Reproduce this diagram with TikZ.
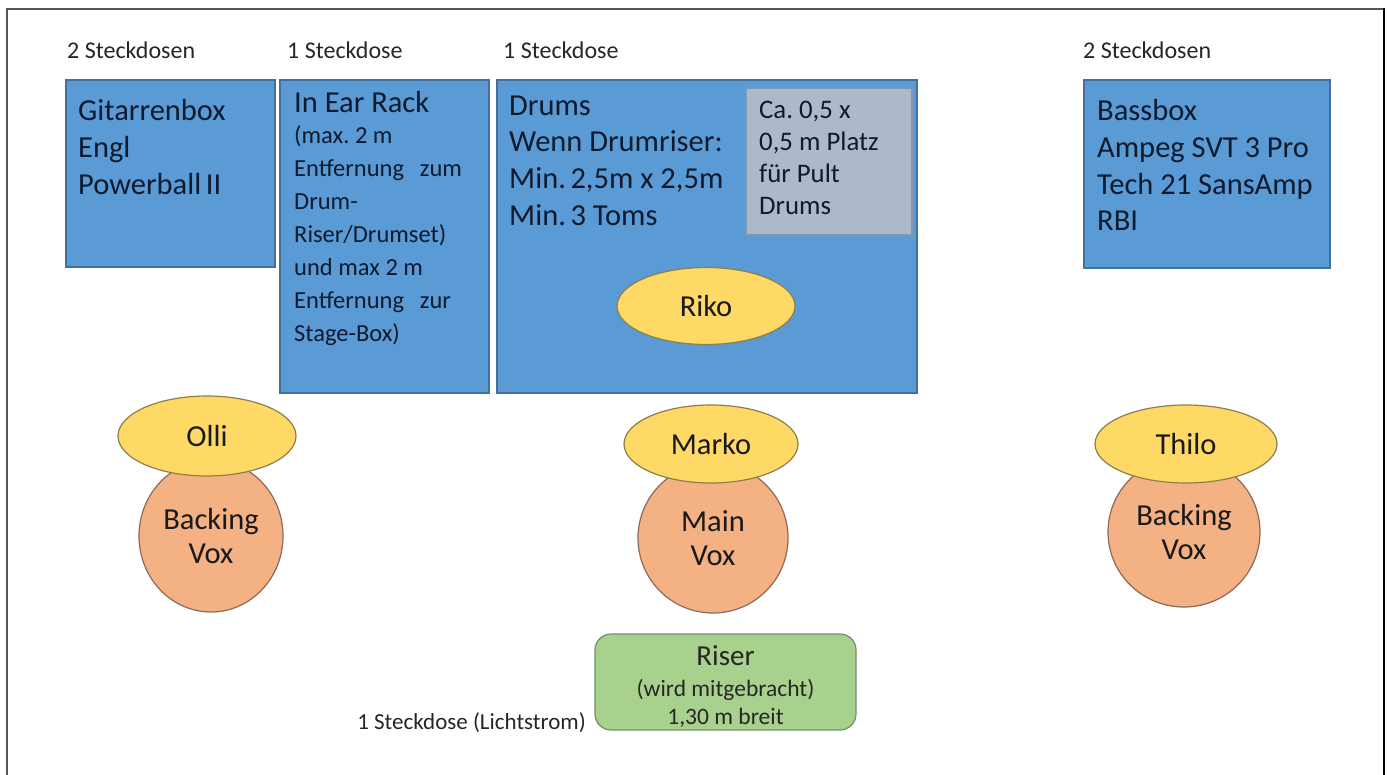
\documentclass[tikz,border=0pt]{standalone}
\usepackage{fontspec}
\setmainfont{Carlito}
\usetikzlibrary{shapes.geometric}
\definecolor{boxblue}{HTML}{5B9BD5}
\definecolor{boxedge}{HTML}{41719C}
\definecolor{greyfill}{HTML}{ADB9CA}
\definecolor{greyedge}{HTML}{8497B0}
\definecolor{goldfill}{HTML}{FFD966}
\definecolor{goldedge}{HTML}{8C7F4A}
\definecolor{salmonfill}{HTML}{F4B183}
\definecolor{salmonedge}{HTML}{8C6A58}
\definecolor{riserfill}{HTML}{A9D18E}
\definecolor{riseredge}{HTML}{6F8F70}
\definecolor{txtblue}{HTML}{0E1A2E}
\definecolor{framegrey}{HTML}{555555}
\frenchspacing
\begin{document}
\begin{tikzpicture}[x=1pt,y=-1pt,
  bluebox/.style={draw=boxedge, fill=boxblue, line width=1.2pt, inner sep=0pt},
  greybox/.style={draw=greyedge, fill=greyfill, line width=1.2pt, inner sep=0pt},
  boxtext/.style={anchor=north west, inner sep=0pt, align=left, text=txtblue,
    font=\fontsize{30.5}{36.7}\selectfont},
  smalltext/.style={anchor=north west, inner sep=0pt, align=left, text=txtblue,
    font=\fontsize{24.5}{33}\selectfont},
  greytext/.style={anchor=north west, inner sep=0pt, align=left, text=txtblue,
    font=\fontsize{26.8}{32.3}\selectfont},
  label/.style={anchor=base west, inner sep=0pt, text=black!85,
    font=\fontsize{24}{28}\selectfont},
  person/.style={ellipse, draw=goldedge, fill=goldfill, line width=1.2pt, inner sep=0pt,
    text=black!90, font=\fontsize{30.5}{34}\selectfont},
  voice/.style={ellipse, draw=salmonedge, fill=salmonfill, line width=1.2pt, inner sep=0pt,
    align=center, text=black!90, font=\fontsize{30.5}{34}\selectfont},
  riserbox/.style={draw=riseredge, fill=riserfill, line width=1.2pt, rounded corners=16pt,
    inner sep=0pt},
  risertext/.style={inner sep=0pt, align=center, text=black!85,
    font=\fontsize{23.5}{28.5}\selectfont}
]
\useasboundingbox (0,0) rectangle (1389,775);
\fill[white] (0,0) rectangle (1389,775);
% frame
\draw[framegrey, line width=1.6pt] (7,790) -- (7,9) -- (1384,9);
\draw[black, line width=2.4pt] (1384,8.2) -- (1384,790);

% labels
\node[label] (l1) at (67,58.5) {2 Steckdosen};
\node[label] (l2) at (287,58.5) {1 Steckdose};
\node[label] (l3) at (503,58.5) {1 Steckdose};
\node[label] (l4) at (1083,58.5) {2 Steckdosen};

% boxes
\node[bluebox, minimum width=209pt, minimum height=187pt] (git) at (170.5,173.5) {};
\node[boxtext] (gittxt) at (78,99.5) {Gitarrenbox\\Engl\\Powerball\hspace{0.15em}II};

\node[bluebox, minimum width=209pt, minimum height=313pt] (iem) at (384.5,236.5) {};
\node[boxtext] (iemtxt) at (294,91.5) {In Ear Rack};
\node[smalltext] (iemsub) at (294,125.5) {(max. 2 m\\Entfernung\hspace{0.65em}zum\\Drum-\\Riser/Drumset)\\und max 2 m\\Entfernung\hspace{0.65em}zur\\Stage-Box)};

\node[bluebox, minimum width=420pt, minimum height=313pt] (drums) at (707,236.5) {};
\node[boxtext] (drumtxt) at (509,95.5) {Drums\\Wenn Drumriser:\\Min.\hspace{0.15em}2,5m x 2,5m\\Min.\hspace{0.15em}3 Toms};

\node[greybox, minimum width=166pt, minimum height=147pt] (pult) at (829,161.5) {};
\node[greytext] (pulttxt) at (759,100.5) {Ca. 0,5 x\\0,5 m Platz\\für Pult\\Drums};

\node[person, minimum width=178pt, minimum height=77pt] (riko) at (706,306) {Riko};

\node[bluebox, minimum width=246pt, minimum height=188pt] (bass) at (1207,174) {};
\node[boxtext] (basstxt) at (1097,99.5) {Bassbox\\Ampeg SVT 3 Pro\\Tech 21 SansAmp\\RBI};

% singers
\node[voice, minimum width=144pt, minimum height=152pt] (bv1) at (211,536) {Backing\\Vox};
\node[person, minimum width=178pt, minimum height=80pt] (olli) at (207,436) {Olli};

\node[voice, minimum width=150pt, minimum height=150pt] (mv) at (713,538) {Main\\Vox};
\node[person, minimum width=174pt, minimum height=78pt] (marko) at (711,444) {Marko};

\node[voice, minimum width=152pt, minimum height=150pt] (bv2) at (1184,532) {Backing\\Vox};
\node[person, minimum width=182pt, minimum height=78pt] (thilo) at (1186,444) {Thilo};

% riser
\node[riserbox, minimum width=261pt, minimum height=96pt] (riser) at (725.5,682) {};
\node[risertext] (risertxt) at (725.5,687)
  {{\fontsize{29}{31}\selectfont Riser}\\[2pt](wird mitgebracht)\\1,30 m breit};
\node[label, anchor=base east, font=\fontsize{23}{27}\selectfont] (licht) at (586,729) {1 Steckdose (Lichtstrom)};
\end{tikzpicture}
\end{document}
